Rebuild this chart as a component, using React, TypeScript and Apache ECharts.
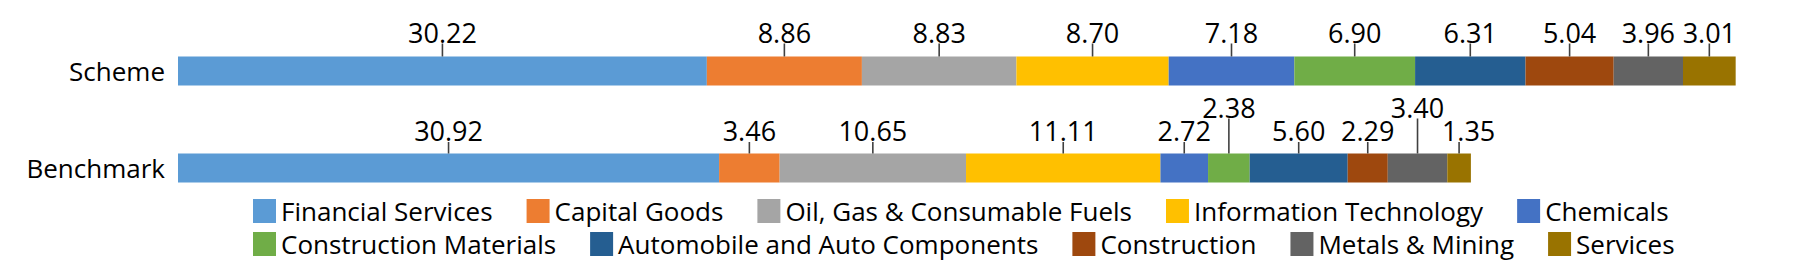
import React, { useEffect, useRef } from "react";
import * as echarts from "echarts";

const rows = ["Scheme", "Benchmark"];
const sectors = [
  "Financial Services",
  "Capital Goods",
  "Oil, Gas & Consumable Fuels",
  "Information Technology",
  "Chemicals",
  "Construction Materials",
  "Automobile and Auto Components",
  "Construction",
  "Metals & Mining",
  "Services",
];
const schemeValues = [30.22, 8.86, 8.83, 8.7, 7.18, 6.9, 6.31, 5.04, 3.96, 3.01];
const benchmarkValues = [30.92, 3.46, 10.65, 11.11, 2.72, 2.38, 5.6, 2.29, 3.4, 1.35];
const legendRow1 = sectors.slice(0, 5);
const legendRow2 = sectors.slice(5);

const colors = [
  "#5B9BD5",
  "#ED7D31",
  "#A5A5A5",
  "#FFC000",
  "#4472C4",
  "#70AD47",
  "#255E91",
  "#9E480E",
  "#636363",
  "#997300",
];

// label layout tweaks (benchmark row)
const raisedBenchmark = new Set(["Construction Materials", "Metals & Mining"]);
const shiftedBenchmark = new Set(["Services"]);

const FONT = "Open Sans";

export default function App() {
  const ref = useRef<HTMLDivElement>(null);

  useEffect(() => {
    if (!ref.current) return;
    const chart = echarts.init(ref.current, undefined, { renderer: "svg" });

    const series = sectors.map((name, i) => ({
      name,
      type: "bar",
      stack: "total",
      barWidth: 29,
      itemStyle: { color: colors[i] },
      data: [schemeValues[i], benchmarkValues[i]],
      label: {
        show: true,
        position: "top",
        distance: 0,
        align: "center",
        formatter: (p: any) => {
          const v = Number(p.value).toFixed(2);
          if (p.dataIndex === 0) return `{t|${v}}\n{s| }`;
          const tk = shiftedBenchmark.has(name) ? "tr" : "t";
          if (raisedBenchmark.has(name)) return `{${tk}|${v}}\n{r| }`;
          return `{${tk}|${v}}\n{b| }`;
        },
        rich: {
          t: { fontFamily: FONT, fontSize: 27, color: "#000", lineHeight: 23 },
          tr: {
            fontFamily: FONT,
            fontSize: 27,
            color: "#000",
            lineHeight: 23,
            padding: [0, 0, 0, 19],
          },
          s: { width: 1.6, height: 13, lineHeight: 13, fontSize: 1, backgroundColor: "#404040" },
          b: { width: 1.6, height: 11.5, lineHeight: 11.5, fontSize: 1, backgroundColor: "#404040" },
          r: { width: 1.6, height: 35, lineHeight: 35, fontSize: 1, backgroundColor: "#404040" },
        },
      },
    }));

    const legendCommon = {
      left: 253,
      padding: 0,
      itemWidth: 23,
      itemHeight: 24,
      itemGap: 34,
      icon: "rect",
      selectedMode: false,
      textStyle: { fontFamily: FONT, fontSize: 26, color: "#000" },
    };

    chart.setOption({
      animation: false,
      textStyle: { fontFamily: FONT },
      grid: { left: 178, top: 22.5, width: 1575, height: 194 },
      xAxis: {
        type: "value",
        min: 0,
        max: 90,
        show: false,
      },
      yAxis: {
        type: "category",
        data: rows,
        inverse: true,
        axisLine: { show: false },
        axisTick: { show: false },
        axisLabel: {
          fontFamily: FONT,
          fontSize: 26,
          color: "#000",
          margin: 13,
          padding: [0, 0, 9, 0],
        },
      },
      legend: [
        { ...legendCommon, top: 198, data: legendRow1 },
        { ...legendCommon, top: 231, data: legendRow2 },
      ],
      series,
    });

    return () => chart.dispose();
  }, []);

  return (
    <div
      ref={ref}
      style={{ position: "fixed", left: 0, top: 0, width: 1797, height: 278, background: "#fff" }}
    />
  );
}
